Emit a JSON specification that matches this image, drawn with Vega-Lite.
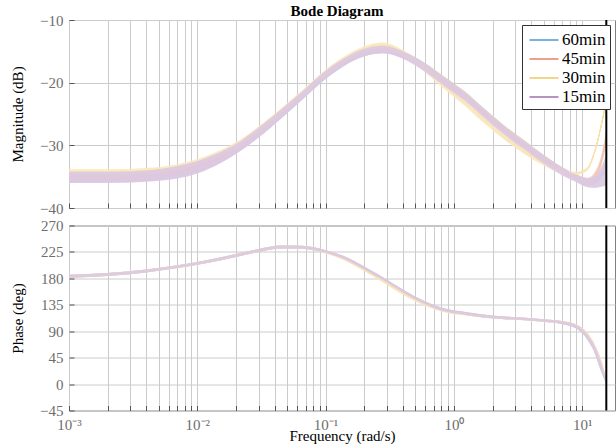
{
  "$schema": "https://vega.github.io/schema/vega-lite/v6.json",
  "padding": {"left": 10, "top": 3, "right": 0, "bottom": 0},
  "background": "white",
  "spacing": 0.5,
  "config": {
    "view": {"stroke": "#808080", "strokeWidth": 1},
    "font": "Liberation Serif",
    "axis": {
      "labelFont": "Liberation Serif", "labelFontSize": 15, "labelColor": "#6e6e6e",
      "titleFont": "Liberation Serif", "titleFontSize": 15, "titleFontWeight": "normal", "titleColor": "#000000",
      "gridColor": "#cccccc", "gridOpacity": 1, "gridWidth": 1,
      "domain": false, "tickColor": "#555555", "tickSize": -5, "tickWidth": 1,
      "labelFlush": false, "labelOverlap": false, "labelSeparation": -30
    }
  },
  "datasets": {
    "nyq": [{"f": 15.4}],
    "bode": [
      {"s":"60min","f":0.001,"mhi":-34.5,"mlo":-35.9,"mmid":-35.2,"phi":186,"plo":181,"pmid":183.5},
      {"s":"60min","f":0.002,"mhi":-34.5,"mlo":-35.9,"mmid":-35.2,"phi":189,"plo":184,"pmid":186.5},
      {"s":"60min","f":0.004,"mhi":-34.3,"mlo":-35.7,"mmid":-35.0,"phi":195,"plo":190,"pmid":192.5},
      {"s":"60min","f":0.007,"mhi":-33.6,"mlo":-35.1,"mmid":-34.35,"phi":202.5,"plo":197.5,"pmid":200},
      {"s":"60min","f":0.01,"mhi":-32.8,"mlo":-34.3,"mmid":-33.55,"phi":208,"plo":203,"pmid":205.5},
      {"s":"60min","f":0.015,"mhi":-31.4,"mlo":-32.8,"mmid":-32.1,"phi":215.5,"plo":210.5,"pmid":213},
      {"s":"60min","f":0.02,"mhi":-30.1,"mlo":-31.3,"mmid":-30.7,"phi":221.5,"plo":216.5,"pmid":219},
      {"s":"60min","f":0.03,"mhi":-27.5,"mlo":-28.7,"mmid":-28.1,"phi":230,"plo":225,"pmid":227.5},
      {"s":"60min","f":0.045,"mhi":-24.6,"mlo":-25.7,"mmid":-25.15,"phi":236,"plo":231,"pmid":233.5},
      {"s":"60min","f":0.065,"mhi":-21.8,"mlo":-22.8,"mmid":-22.3,"phi":235.5,"plo":230.5,"pmid":233},
      {"s":"60min","f":0.1,"mhi":-18.4,"mlo":-19.4,"mmid":-18.9,"phi":228,"plo":223,"pmid":225.5},
      {"s":"60min","f":0.14,"mhi":-16.3,"mlo":-17.3,"mmid":-16.8,"phi":217.5,"plo":212.5,"pmid":215},
      {"s":"60min","f":0.2,"mhi":-14.8,"mlo":-15.8,"mmid":-15.3,"phi":200,"plo":195,"pmid":197.5},
      {"s":"60min","f":0.28,"mhi":-14.3,"mlo":-15.3,"mmid":-14.8,"phi":182,"plo":177,"pmid":179.5},
      {"s":"60min","f":0.4,"mhi":-15.0,"mlo":-16.0,"mmid":-15.5,"phi":161,"plo":156,"pmid":158.5},
      {"s":"60min","f":0.6,"mhi":-16.9,"mlo":-18.0,"mmid":-17.45,"phi":140.5,"plo":135.5,"pmid":138},
      {"s":"60min","f":0.85,"mhi":-19.1,"mlo":-20.2,"mmid":-19.65,"phi":128.5,"plo":123.5,"pmid":126},
      {"s":"60min","f":1.2,"mhi":-21.3,"mlo":-22.4,"mmid":-21.85,"phi":123,"plo":118,"pmid":120.5},
      {"s":"60min","f":1.7,"mhi":-24.0,"mlo":-25.1,"mmid":-24.55,"phi":118.5,"plo":113.5,"pmid":116},
      {"s":"60min","f":2.5,"mhi":-26.9,"mlo":-28.0,"mmid":-27.45,"phi":115,"plo":110.5,"pmid":112.75},
      {"s":"60min","f":3.6,"mhi":-29.3,"mlo":-30.4,"mmid":-29.85,"phi":113,"plo":108.5,"pmid":110.75},
      {"s":"60min","f":5,"mhi":-31.5,"mlo":-32.6,"mmid":-32.05,"phi":110.5,"plo":106,"pmid":108.25},
      {"s":"60min","f":7,"mhi":-33.5,"mlo":-34.5,"mmid":-34.0,"phi":107,"plo":102,"pmid":104.5},
      {"s":"60min","f":9,"mhi":-34.7,"mlo":-35.6,"mmid":-35.15,"phi":100.5,"plo":94.5,"pmid":97.5},
      {"s":"60min","f":11,"mhi":-35.4,"mlo":-36.4,"mmid":-35.9,"phi":85,"plo":75,"pmid":80},
      {"s":"60min","f":12.5,"mhi":-35.1,"mlo":-36.2,"mmid":-35.65,"phi":65,"plo":53,"pmid":59},
      {"s":"60min","f":14,"mhi":-33.9,"mlo":-35.4,"mmid":-34.65,"phi":38,"plo":22,"pmid":30},
      {"s":"60min","f":15.4,"mhi":-31.2,"mlo":-33.6,"mmid":-32.4,"phi":8,"plo":1,"pmid":4.5},

      {"s":"45min","f":0.001,"mhi":-34.3,"mlo":-35.6,"mmid":-34.95,"phi":186,"plo":181,"pmid":183.5},
      {"s":"45min","f":0.002,"mhi":-34.3,"mlo":-35.6,"mmid":-34.95,"phi":189,"plo":184,"pmid":186.5},
      {"s":"45min","f":0.004,"mhi":-34.1,"mlo":-35.4,"mmid":-34.75,"phi":195,"plo":190,"pmid":192.5},
      {"s":"45min","f":0.007,"mhi":-33.4,"mlo":-34.8,"mmid":-34.1,"phi":202.5,"plo":197.5,"pmid":200},
      {"s":"45min","f":0.01,"mhi":-32.6,"mlo":-34.0,"mmid":-33.3,"phi":208,"plo":203,"pmid":205.5},
      {"s":"45min","f":0.015,"mhi":-31.2,"mlo":-32.6,"mmid":-31.9,"phi":215.5,"plo":210.5,"pmid":213},
      {"s":"45min","f":0.02,"mhi":-29.9,"mlo":-31.1,"mmid":-30.5,"phi":221.5,"plo":216.5,"pmid":219},
      {"s":"45min","f":0.03,"mhi":-27.3,"mlo":-28.5,"mmid":-27.9,"phi":230,"plo":225,"pmid":227.5},
      {"s":"45min","f":0.045,"mhi":-24.4,"mlo":-25.5,"mmid":-24.95,"phi":236,"plo":231,"pmid":233.5},
      {"s":"45min","f":0.065,"mhi":-21.6,"mlo":-22.6,"mmid":-22.1,"phi":235.5,"plo":230.5,"pmid":233},
      {"s":"45min","f":0.1,"mhi":-18.2,"mlo":-19.2,"mmid":-18.7,"phi":228,"plo":223,"pmid":225.5},
      {"s":"45min","f":0.14,"mhi":-16.1,"mlo":-17.1,"mmid":-16.6,"phi":217,"plo":212,"pmid":214.5},
      {"s":"45min","f":0.2,"mhi":-14.6,"mlo":-15.6,"mmid":-15.1,"phi":199.5,"plo":194.5,"pmid":197},
      {"s":"45min","f":0.28,"mhi":-14.2,"mlo":-15.2,"mmid":-14.7,"phi":181.5,"plo":176.5,"pmid":179},
      {"s":"45min","f":0.4,"mhi":-15.0,"mlo":-16.0,"mmid":-15.5,"phi":160.5,"plo":155.5,"pmid":158},
      {"s":"45min","f":0.6,"mhi":-17.0,"mlo":-18.1,"mmid":-17.55,"phi":140,"plo":135,"pmid":137.5},
      {"s":"45min","f":0.85,"mhi":-19.2,"mlo":-20.3,"mmid":-19.75,"phi":128,"plo":123,"pmid":125.5},
      {"s":"45min","f":1.2,"mhi":-21.4,"mlo":-22.5,"mmid":-21.95,"phi":122.5,"plo":117.5,"pmid":120},
      {"s":"45min","f":1.7,"mhi":-24.1,"mlo":-25.2,"mmid":-24.65,"phi":118,"plo":113.5,"pmid":115.75},
      {"s":"45min","f":2.5,"mhi":-27.0,"mlo":-28.1,"mmid":-27.55,"phi":115,"plo":110.5,"pmid":112.75},
      {"s":"45min","f":3.6,"mhi":-29.4,"mlo":-30.5,"mmid":-29.95,"phi":113,"plo":108.5,"pmid":110.75},
      {"s":"45min","f":5,"mhi":-31.6,"mlo":-32.6,"mmid":-32.1,"phi":110.5,"plo":106,"pmid":108.25},
      {"s":"45min","f":7,"mhi":-33.5,"mlo":-34.5,"mmid":-34.0,"phi":107.5,"plo":102.5,"pmid":105},
      {"s":"45min","f":9,"mhi":-34.6,"mlo":-35.5,"mmid":-35.05,"phi":102,"plo":96,"pmid":99},
      {"s":"45min","f":11,"mhi":-35.2,"mlo":-36.2,"mmid":-35.7,"phi":87,"plo":78,"pmid":82.5},
      {"s":"45min","f":12.5,"mhi":-34.3,"mlo":-35.6,"mmid":-34.95,"phi":68,"plo":56,"pmid":62},
      {"s":"45min","f":14,"mhi":-31.8,"mlo":-33.6,"mmid":-32.7,"phi":42,"plo":26,"pmid":34},
      {"s":"45min","f":15.4,"mhi":-27.3,"mlo":-30.0,"mmid":-28.65,"phi":9,"plo":2,"pmid":5.5},

      {"s":"30min","f":0.001,"mhi":-33.8,"mlo":-34.7,"mmid":-34.25,"phi":185.5,"plo":181.5,"pmid":183.5},
      {"s":"30min","f":0.002,"mhi":-33.8,"mlo":-34.7,"mmid":-34.25,"phi":188.5,"plo":184.5,"pmid":186.5},
      {"s":"30min","f":0.004,"mhi":-33.6,"mlo":-34.5,"mmid":-34.05,"phi":194.5,"plo":190.5,"pmid":192.5},
      {"s":"30min","f":0.007,"mhi":-33.0,"mlo":-33.9,"mmid":-33.45,"phi":202,"plo":198,"pmid":200},
      {"s":"30min","f":0.01,"mhi":-32.2,"mlo":-33.1,"mmid":-32.65,"phi":207.5,"plo":203.5,"pmid":205.5},
      {"s":"30min","f":0.015,"mhi":-30.8,"mlo":-31.7,"mmid":-31.25,"phi":215,"plo":211,"pmid":213},
      {"s":"30min","f":0.02,"mhi":-29.5,"mlo":-30.4,"mmid":-29.95,"phi":221,"plo":217,"pmid":219},
      {"s":"30min","f":0.03,"mhi":-27.0,"mlo":-27.9,"mmid":-27.45,"phi":229.5,"plo":225.5,"pmid":227.5},
      {"s":"30min","f":0.045,"mhi":-24.1,"mlo":-25.0,"mmid":-24.55,"phi":235.5,"plo":231.5,"pmid":233.5},
      {"s":"30min","f":0.065,"mhi":-21.3,"mlo":-22.2,"mmid":-21.75,"phi":234.5,"plo":230.5,"pmid":232.5},
      {"s":"30min","f":0.1,"mhi":-17.9,"mlo":-18.8,"mmid":-18.35,"phi":226.5,"plo":222.5,"pmid":224.5},
      {"s":"30min","f":0.14,"mhi":-15.8,"mlo":-16.7,"mmid":-16.25,"phi":214.5,"plo":210.5,"pmid":212.5},
      {"s":"30min","f":0.2,"mhi":-14.2,"mlo":-15.0,"mmid":-14.6,"phi":196,"plo":192,"pmid":194},
      {"s":"30min","f":0.28,"mhi":-13.6,"mlo":-14.5,"mmid":-14.05,"phi":177,"plo":173,"pmid":175},
      {"s":"30min","f":0.4,"mhi":-14.8,"mlo":-15.7,"mmid":-15.25,"phi":156,"plo":152,"pmid":154},
      {"s":"30min","f":0.6,"mhi":-17.4,"mlo":-18.4,"mmid":-17.9,"phi":137,"plo":133,"pmid":135},
      {"s":"30min","f":0.85,"mhi":-20.1,"mlo":-21.1,"mmid":-20.6,"phi":126,"plo":122,"pmid":124},
      {"s":"30min","f":1.2,"mhi":-22.6,"mlo":-23.6,"mmid":-23.1,"phi":121,"plo":117,"pmid":119},
      {"s":"30min","f":1.7,"mhi":-25.4,"mlo":-26.4,"mmid":-25.9,"phi":117,"plo":113,"pmid":115},
      {"s":"30min","f":2.5,"mhi":-28.3,"mlo":-29.2,"mmid":-28.75,"phi":114,"plo":110.5,"pmid":112.25},
      {"s":"30min","f":3.6,"mhi":-30.7,"mlo":-31.5,"mmid":-31.1,"phi":112,"plo":108.5,"pmid":110.25},
      {"s":"30min","f":5,"mhi":-32.5,"mlo":-33.2,"mmid":-32.85,"phi":110,"plo":106,"pmid":108},
      {"s":"30min","f":7,"mhi":-33.9,"mlo":-34.5,"mmid":-34.2,"phi":106.5,"plo":102.5,"pmid":104.5},
      {"s":"30min","f":9,"mhi":-34.2,"mlo":-34.7,"mmid":-34.45,"phi":101,"plo":96,"pmid":98.5},
      {"s":"30min","f":11,"mhi":-33.4,"mlo":-34.0,"mmid":-33.7,"phi":87,"plo":79,"pmid":83},
      {"s":"30min","f":12.5,"mhi":-30.6,"mlo":-31.4,"mmid":-31.0,"phi":68,"plo":58,"pmid":63},
      {"s":"30min","f":14,"mhi":-26.6,"mlo":-27.4,"mmid":-27.0,"phi":42,"plo":28,"pmid":35},
      {"s":"30min","f":15.4,"mhi":-22.4,"mlo":-23.2,"mmid":-22.8,"phi":9,"plo":3,"pmid":6},

      {"s":"15min","f":0.001,"mhi":-34.2,"mlo":-36.0,"mmid":-35.1,"phi":186,"plo":181,"pmid":183.5},
      {"s":"15min","f":0.002,"mhi":-34.2,"mlo":-36.0,"mmid":-35.1,"phi":189,"plo":184,"pmid":186.5},
      {"s":"15min","f":0.004,"mhi":-34.0,"mlo":-35.8,"mmid":-34.9,"phi":195,"plo":190,"pmid":192.5},
      {"s":"15min","f":0.007,"mhi":-33.3,"mlo":-35.3,"mmid":-34.3,"phi":202.5,"plo":197.5,"pmid":200},
      {"s":"15min","f":0.01,"mhi":-32.5,"mlo":-34.5,"mmid":-33.5,"phi":208,"plo":203,"pmid":205.5},
      {"s":"15min","f":0.015,"mhi":-31.1,"mlo":-32.9,"mmid":-32.0,"phi":215.5,"plo":210.5,"pmid":213},
      {"s":"15min","f":0.02,"mhi":-29.8,"mlo":-31.4,"mmid":-30.6,"phi":221.5,"plo":216.5,"pmid":219},
      {"s":"15min","f":0.03,"mhi":-27.2,"mlo":-28.8,"mmid":-28.0,"phi":230,"plo":225,"pmid":227.5},
      {"s":"15min","f":0.045,"mhi":-24.3,"mlo":-25.7,"mmid":-25.0,"phi":236,"plo":231,"pmid":233.5},
      {"s":"15min","f":0.065,"mhi":-21.5,"mlo":-22.8,"mmid":-22.15,"phi":235.5,"plo":230.5,"pmid":233},
      {"s":"15min","f":0.1,"mhi":-18.1,"mlo":-19.4,"mmid":-18.75,"phi":228,"plo":223,"pmid":225.5},
      {"s":"15min","f":0.14,"mhi":-16.1,"mlo":-17.3,"mmid":-16.7,"phi":217.5,"plo":212.5,"pmid":215},
      {"s":"15min","f":0.2,"mhi":-14.6,"mlo":-15.8,"mmid":-15.2,"phi":200,"plo":195,"pmid":197.5},
      {"s":"15min","f":0.28,"mhi":-14.1,"mlo":-15.3,"mmid":-14.7,"phi":182,"plo":177,"pmid":179.5},
      {"s":"15min","f":0.4,"mhi":-15.0,"mlo":-16.2,"mmid":-15.6,"phi":161,"plo":156,"pmid":158.5},
      {"s":"15min","f":0.6,"mhi":-17.1,"mlo":-18.3,"mmid":-17.7,"phi":140.5,"plo":135.5,"pmid":138},
      {"s":"15min","f":0.85,"mhi":-19.4,"mlo":-20.6,"mmid":-20.0,"phi":128.5,"plo":123.5,"pmid":126},
      {"s":"15min","f":1.2,"mhi":-21.6,"mlo":-22.8,"mmid":-22.2,"phi":123,"plo":118,"pmid":120.5},
      {"s":"15min","f":1.7,"mhi":-24.3,"mlo":-25.5,"mmid":-24.9,"phi":118.5,"plo":113.5,"pmid":116},
      {"s":"15min","f":2.5,"mhi":-27.2,"mlo":-28.4,"mmid":-27.8,"phi":115,"plo":110.5,"pmid":112.75},
      {"s":"15min","f":3.6,"mhi":-29.6,"mlo":-30.8,"mmid":-30.2,"phi":113,"plo":108.5,"pmid":110.75},
      {"s":"15min","f":5,"mhi":-31.7,"mlo":-32.9,"mmid":-32.3,"phi":110.5,"plo":106,"pmid":108.25},
      {"s":"15min","f":7,"mhi":-33.6,"mlo":-34.8,"mmid":-34.2,"phi":107,"plo":102,"pmid":104.5},
      {"s":"15min","f":9,"mhi":-34.7,"mlo":-35.9,"mmid":-35.3,"phi":100.5,"plo":94.5,"pmid":97.5},
      {"s":"15min","f":11,"mhi":-35.2,"mlo":-36.7,"mmid":-35.95,"phi":85,"plo":75,"pmid":80},
      {"s":"15min","f":12.5,"mhi":-34.9,"mlo":-36.8,"mmid":-35.85,"phi":65,"plo":53,"pmid":59},
      {"s":"15min","f":14,"mhi":-33.6,"mlo":-36.6,"mmid":-35.1,"phi":38,"plo":22,"pmid":30},
      {"s":"15min","f":15.4,"mhi":-31.6,"mlo":-36.4,"mmid":-34.0,"phi":8,"plo":1,"pmid":4.5}
    ]
  },
  "resolve": {"scale": {"color": "independent", "fill": "independent"}},
  "vconcat": [
    {
      "width": 546, "height": 188,
      "title": {"text": "Bode Diagram", "font": "Liberation Serif", "fontSize": 15, "fontWeight": "bold", "color": "#000000", "offset": -6, "dx": -5},
      "layer": [
        {
          "data": {"name": "bode"},
          "mark": {"type": "line", "opacity": 1, "strokeWidth": 1, "interpolate": "monotone"},
          "encoding": {
            "x": {"field": "f", "type": "quantitative",
              "scale": {"type": "log", "domain": [0.001, 18], "nice": false},
              "axis": {"title": null, "labels": false, "labelOverlap": false,
                "values": [0.001,0.002,0.003,0.004,0.005,0.006,0.007,0.008,0.009,0.01,0.02,0.03,0.04,0.05,0.06,0.07,0.08,0.09,0.1,0.2,0.3,0.4,0.5,0.6,0.7,0.8,0.9,1,2,3,4,5,6,7,8,9,10]}},
            "y": {"field": "mmid", "type": "quantitative",
              "scale": {"domain": [-40, -10], "nice": false, "zero": false},
              "axis": {"title": "Magnitude (dB)", "values": [-40,-30,-20,-10], "labelOverlap": false, "labelExpr": "replace(datum.label, '-', '−')", "labelPadding": 11, "titlePadding": 14}},
            "color": {"field": "s", "type": "nominal",
              "scale": {"domain": ["60min","45min","30min","15min"], "range": ["#0072BD","#D95319","#EDB120","#7E2F8E"]},
              "legend": {"title": null, "orient": "top-right", "offset": 5,
                "fillColor": "white", "strokeColor": "#333333", "padding": 4,
                "symbolType": "M-1.45,0H1.45", "symbolSize": 400, "symbolStrokeWidth": 1.5, "symbolOpacity": 0.7, "symbolOffset": 7,
                "labelFont": "Liberation Serif", "labelFontSize": 17, "labelColor": "#000000", "labelOffset": 7, "rowPadding": 0,
                "labelExpr": "datum.label + '\u00a0\u00a0'"}}
          }
        },
        {
          "data": {"name": "bode"},
          "mark": {"type": "area", "opacity": 0.9, "interpolate": "monotone"},
          "encoding": {
            "x": {"field": "f", "type": "quantitative"},
            "y": {"field": "mhi", "type": "quantitative",
              "axis": {"title": "Magnitude (dB)", "values": [-40,-30,-20,-10], "labelOverlap": false, "labelExpr": "replace(datum.label, '-', '−')", "labelPadding": 11, "titlePadding": 14}},
            "y2": {"field": "mlo"},
            "fill": {"field": "s", "type": "nominal", "legend": null,
              "scale": {"domain": ["60min","45min","30min","15min"], "range": ["#b3d5eb","#f4cbba","#fae8bc","#dcc8e1"]}}
          }
        },
        {
          "data": {"name": "nyq"},
          "mark": {"type": "rule", "color": "#000000", "strokeWidth": 2},
          "encoding": {"x": {"field": "f", "type": "quantitative"}}
        }
      ]
    },
    {
      "width": 546, "height": 185,
      "layer": [
        {
          "data": {"name": "bode"},
          "mark": {"type": "line", "opacity": 1, "strokeWidth": 1, "interpolate": "monotone"},
          "encoding": {
            "x": {"field": "f", "type": "quantitative",
              "scale": {"type": "log", "domain": [0.001, 18], "nice": false},
              "axis": {"title": "Frequency (rad/s)", "labelPadding": 11.5, "titlePadding": -4, "labelOverlap": false,
                "values": [0.001,0.002,0.003,0.004,0.005,0.006,0.007,0.008,0.009,0.01,0.02,0.03,0.04,0.05,0.06,0.07,0.08,0.09,0.1,0.2,0.3,0.4,0.5,0.6,0.7,0.8,0.9,1,2,3,4,5,6,7,8,9,10],
                "labelExpr": "datum.value == 0.001 ? '10⁻³' : datum.value == 0.01 ? '10⁻²' : datum.value == 0.1 ? '10⁻¹' : datum.value == 1 ? '10⁰' : datum.value == 10 ? '10¹' : ''"}},
            "y": {"field": "pmid", "type": "quantitative",
              "scale": {"domain": [-45, 270], "nice": false, "zero": false},
              "axis": {"title": "Phase (deg)", "values": [-45,0,45,90,135,180,225,270], "labelOverlap": false, "labelExpr": "replace(datum.label, '-', '−')", "labelPadding": 11, "titlePadding": 14}},
            "color": {"field": "s", "type": "nominal", "legend": null,
              "scale": {"domain": ["60min","45min","30min","15min"], "range": ["#0072BD","#D95319","#EDB120","#7E2F8E"]}}
          }
        },
        {
          "data": {"name": "bode"},
          "mark": {"type": "area", "opacity": 0.9, "interpolate": "monotone"},
          "encoding": {
            "x": {"field": "f", "type": "quantitative"},
            "y": {"field": "phi", "type": "quantitative",
              "axis": {"title": "Phase (deg)", "values": [-45,0,45,90,135,180,225,270], "labelOverlap": false, "labelExpr": "replace(datum.label, '-', '−')", "labelPadding": 11, "titlePadding": 14}},
            "y2": {"field": "plo"},
            "fill": {"field": "s", "type": "nominal", "legend": null,
              "scale": {"domain": ["60min","45min","30min","15min"], "range": ["#b3d5eb","#f4cbba","#fae8bc","#dcc8e1"]}}
          }
        },
        {
          "data": {"name": "nyq"},
          "mark": {"type": "rule", "color": "#000000", "strokeWidth": 2},
          "encoding": {"x": {"field": "f", "type": "quantitative"}}
        }
      ]
    }
  ]
}
